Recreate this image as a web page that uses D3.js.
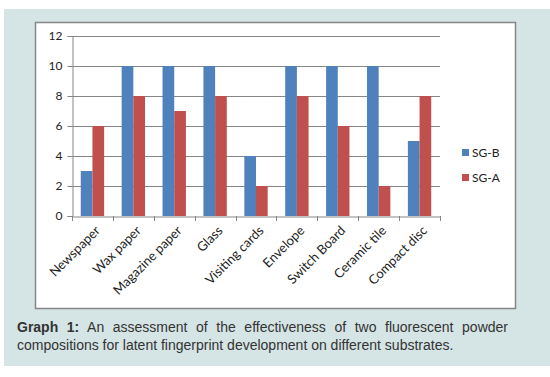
<!DOCTYPE html>
<html>
<head>
<meta charset="utf-8">
<script src="https://cdn.jsdelivr.net/npm/d3@7"></script>
<style>
  body { margin: 0; background: #fff; }
</style>
</head>
<body>
<svg id="chart" width="550" height="377"></svg>
<script>
const categories = ["Newspaper", "Wax paper", "Magazine paper", "Glass", "Visiting cards",
                    "Envelope", "Switch Board", "Ceramic tile", "Compact disc"];
const seriesNames = ["SG-B", "SG-A"];
const sgB = [3, 10, 10, 10, 4, 10, 10, 10, 5];
const sgA = [6, 8, 7, 8, 2, 8, 6, 2, 8];
const yTicks = [0, 2, 4, 6, 8, 10, 12];
const captionLabel = "Graph 1:";
const captionLines = ["An assessment of the effectiveness of two fluorescent powder",
                      "compositions for latent fingerprint development on different substrates."];

const colors = { "SG-B": "#4f81bd", "SG-A": "#c0504d" };
const font = "Lato, 'Open Sans', sans-serif";
const capFont = "'Liberation Sans', Arial, sans-serif";

const svg = d3.select("#chart");

// page background panel
svg.append("rect").attr("x", 4).attr("y", 9).attr("width", 546).attr("height", 357)
  .attr("fill", "#d5e4e4");

// white chart box
svg.append("rect").attr("x", 35.5).attr("y", 22.5).attr("width", 480).attr("height", 286)
  .attr("fill", "#fff").attr("stroke", "#868686").attr("stroke-width", 1.5);

const pL = 72, pR = 440, pT = 36, pB = 216;

const x = d3.scaleBand().domain(categories).range([pL, pR]).paddingInner(0).paddingOuter(0);
const x1 = d3.scaleBand().domain(seriesNames).range([0, x.bandwidth()]).paddingInner(0).paddingOuter(0.75);
const y = d3.scaleLinear().domain([0, 12]).range([pB, pT]);

const g = svg.append("g");

// gridlines
g.selectAll(".grid").data(yTicks.filter(d => d > 0)).enter().append("line")
  .attr("x1", pL).attr("x2", pR)
  .attr("y1", d => Math.round(y(d)) + 0.5).attr("y2", d => Math.round(y(d)) + 0.5)
  .attr("stroke", "#868686").attr("stroke-width", 1);

// bars
const rows = categories.map((c, i) => ({ cat: c, vals: [
  { s: "SG-B", v: sgB[i] }, { s: "SG-A", v: sgA[i] }] }));

const grp = g.selectAll(".cat").data(rows).enter().append("g")
  .attr("transform", d => "translate(" + x(d.cat) + ",0)");
grp.selectAll("rect").data(d => d.vals).enter().append("rect")
  .attr("x", d => x1(d.s))
  .attr("width", x1.bandwidth())
  .attr("y", d => y(d.v))
  .attr("height", d => y(0) - y(d.v))
  .attr("fill", d => colors[d.s]);

// y axis
const yAxis = g.append("g").attr("transform", "translate(" + (pL + 0.5) + ",0)")
  .call(d3.axisLeft(y).tickValues(yTicks).tickSize(5).tickPadding(5));
yAxis.select(".domain").attr("stroke", "#868686");
yAxis.selectAll(".tick line").attr("stroke", "#868686");
yAxis.selectAll("text").attr("font-family", font).attr("font-size", 12).attr("fill", "#222");

// x axis
const xAxis = g.append("g").attr("transform", "translate(0," + (pB + 0.5) + ")")
  .call(d3.axisBottom(x).tickSize(0).tickFormat(""));
xAxis.select(".domain").attr("stroke", "#868686");
const bounds = categories.map(c => x(c)).concat([pR]);
g.selectAll(".xt").data(bounds).enter().append("line")
  .attr("x1", d => Math.round(d) + 0.5).attr("x2", d => Math.round(d) + 0.5)
  .attr("y1", pB).attr("y2", pB + 5)
  .attr("stroke", "#868686");

g.selectAll(".xl").data(categories).enter().append("text")
  .attr("transform", d => "translate(" + (x(d) + x.bandwidth() / 2 + 2) + "," + (pB + 9) + ") rotate(-45)")
  .attr("text-anchor", "end")
  .attr("dy", "0.7em")
  .attr("font-family", font).attr("font-size", 13).attr("fill", "#222")
  .text(d => d);

// legend
const leg = svg.append("g").attr("transform", "translate(462,149)");
seriesNames.forEach((s, i) => {
  leg.append("rect").attr("x", 0).attr("y", i * 25).attr("width", 7).attr("height", 7).attr("fill", colors[s]);
  leg.append("text").attr("x", 10).attr("y", i * 25 + 7.5)
    .attr("font-family", font).attr("font-size", 12).attr("fill", "#222").text(s);
});

// caption, first line justified to the right edge
const cap = svg.append("g").attr("font-family", capFont).attr("font-size", 14).attr("fill", "#333");
const startX = 17, endX = 508;
const line1 = cap.append("text").attr("x", startX).attr("y", 332);
line1.append("tspan").attr("font-weight", "bold").text(captionLabel);
line1.append("tspan").text(" " + captionLines[0]);
const w1 = line1.node().getComputedTextLength();
const gaps = (captionLabel + " " + captionLines[0]).split(" ").length - 1;
line1.attr("word-spacing", ((endX - startX) - w1) / gaps);
cap.append("text").attr("x", startX).attr("y", 350).text(captionLines[1]);
</script>
</body>
</html>
